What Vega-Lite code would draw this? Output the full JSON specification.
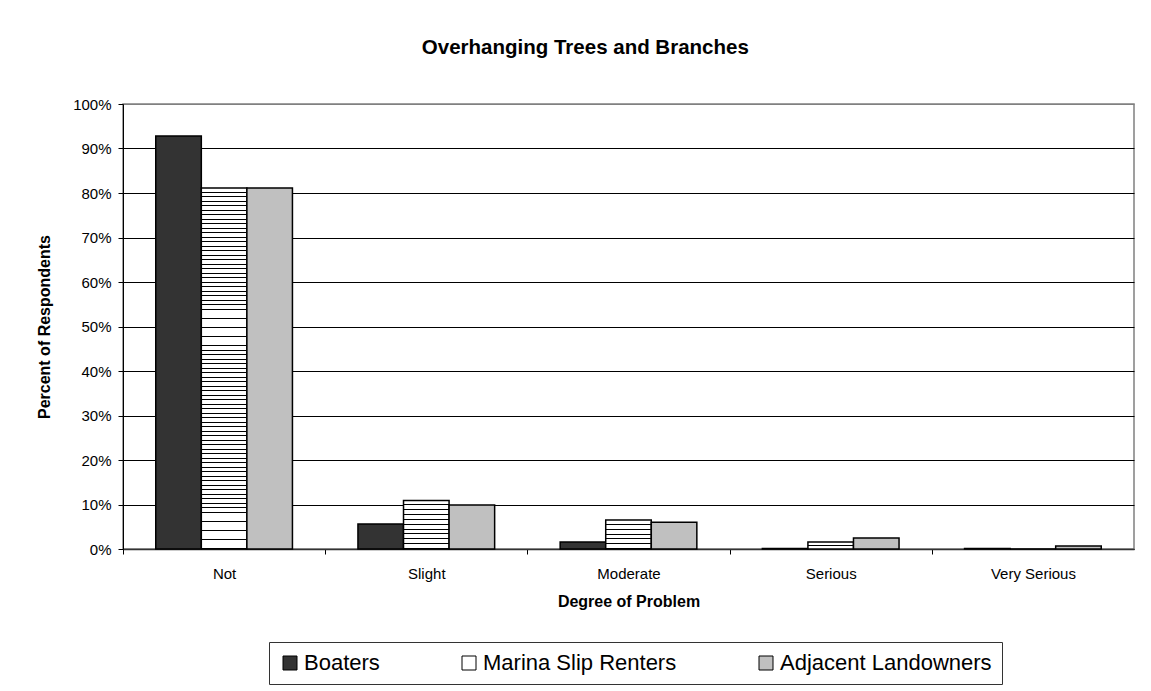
{
  "$schema": "https://vega.github.io/schema/vega-lite/v6.json",
  "width": 1011,
  "height": 445,
  "autosize": {"type": "none"},
  "padding": {"left": 123, "top": 104, "right": 17, "bottom": 142},
  "background": "white",
  "title": {"text": "Overhanging Trees and Branches", "fontSize": 20.5, "font": "Liberation Sans", "fontWeight": "bold", "color": "black", "anchor": "middle", "frame": "bounds", "offset": 39},
  "data": {"values": [
    {"Degree": "Not", "Group": "Boaters", "Pct": 0.928},
    {"Degree": "Not", "Group": "Marina Slip Renters", "Pct": 0.811},
    {"Degree": "Not", "Group": "Adjacent Landowners", "Pct": 0.811},
    {"Degree": "Slight", "Group": "Boaters", "Pct": 0.056},
    {"Degree": "Slight", "Group": "Marina Slip Renters", "Pct": 0.109},
    {"Degree": "Slight", "Group": "Adjacent Landowners", "Pct": 0.099},
    {"Degree": "Moderate", "Group": "Boaters", "Pct": 0.016},
    {"Degree": "Moderate", "Group": "Marina Slip Renters", "Pct": 0.065},
    {"Degree": "Moderate", "Group": "Adjacent Landowners", "Pct": 0.06},
    {"Degree": "Serious", "Group": "Boaters", "Pct": 0.001},
    {"Degree": "Serious", "Group": "Marina Slip Renters", "Pct": 0.016},
    {"Degree": "Serious", "Group": "Adjacent Landowners", "Pct": 0.025},
    {"Degree": "Very Serious", "Group": "Boaters", "Pct": 0.001},
    {"Degree": "Very Serious", "Group": "Marina Slip Renters", "Pct": 0},
    {"Degree": "Very Serious", "Group": "Adjacent Landowners", "Pct": 0.007}
  ]},
  "mark": {"type": "bar", "stroke": "black", "strokeWidth": 1.5},
  "encoding": {
    "x": {
      "field": "Degree", "type": "nominal",
      "sort": ["Not", "Slight", "Moderate", "Serious", "Very Serious"],
      "scale": {"paddingInner": 0.324, "paddingOuter": 0.162},
      "axis": {"title": "Degree of Problem", "titleFontSize": 16, "titleFontWeight": "bold", "titleColor": "black", "titlePadding": 12, "labelFontSize": 15, "labelColor": "black", "labelAngle": 0, "labelPadding": 12, "ticks": true, "tickSize": 5, "tickColor": "black", "tickOffset": -101.1, "labelOffset": 101.1, "domainColor": "#333", "domainWidth": 1.5}
    },
    "xOffset": {
      "field": "Group", "type": "nominal",
      "sort": ["Boaters", "Marina Slip Renters", "Adjacent Landowners"],
      "scale": {"paddingInner": 0, "paddingOuter": 0}
    },
    "y": {
      "field": "Pct", "type": "quantitative",
      "scale": {"domain": [0, 1], "nice": false},
      "axis": {"title": "Percent of Respondents", "titleFontSize": 16, "titleFontWeight": "bold", "titleColor": "black", "titlePadding": 20, "format": ".0%", "values": [0, 0.1, 0.2, 0.3, 0.4, 0.5, 0.6, 0.7, 0.8, 0.9, 1], "labelFontSize": 15, "labelColor": "black", "labelPadding": 7, "tickSize": 5, "tickColor": "black", "domainColor": "black", "grid": true, "gridColor": {"condition": {"test": "datum.value === 1", "value": "#808080"}, "value": "black"}, "gridWidth": 1, "gridOpacity": 1}
    },
    "color": {
      "condition": [
        {"test": "datum.Group === 'Marina Slip Renters' && datum.Degree === 'Not'", "value":
          {"gradient": "linear", "x1": 0, "y1": 0, "x2": 0, "y2": 1, "stops": [
            {"offset": 0, "color": "#fff"}, {"offset": 0.01, "color": "#fff"}, {"offset": 0.01, "color": "#000"}, {"offset": 0.0125, "color": "#000"},
            {"offset": 0.0125, "color": "#fff"}, {"offset": 0.0225, "color": "#fff"}, {"offset": 0.0225, "color": "#000"}, {"offset": 0.025, "color": "#000"},
            {"offset": 0.025, "color": "#fff"}, {"offset": 0.035, "color": "#fff"}, {"offset": 0.035, "color": "#000"}, {"offset": 0.0375, "color": "#000"},
            {"offset": 0.0375, "color": "#fff"}, {"offset": 0.0475, "color": "#fff"}, {"offset": 0.0475, "color": "#000"}, {"offset": 0.05, "color": "#000"},
            {"offset": 0.05, "color": "#fff"}, {"offset": 0.06, "color": "#fff"}, {"offset": 0.06, "color": "#000"}, {"offset": 0.0625, "color": "#000"},
            {"offset": 0.0625, "color": "#fff"}, {"offset": 0.0725, "color": "#fff"}, {"offset": 0.0725, "color": "#000"}, {"offset": 0.075, "color": "#000"},
            {"offset": 0.075, "color": "#fff"}, {"offset": 0.085, "color": "#fff"}, {"offset": 0.085, "color": "#000"}, {"offset": 0.0875, "color": "#000"},
            {"offset": 0.0875, "color": "#fff"}, {"offset": 0.0975, "color": "#fff"}, {"offset": 0.0975, "color": "#000"}, {"offset": 0.1, "color": "#000"},
            {"offset": 0.1, "color": "#fff"}, {"offset": 0.11, "color": "#fff"}, {"offset": 0.11, "color": "#000"}, {"offset": 0.1125, "color": "#000"},
            {"offset": 0.1125, "color": "#fff"}, {"offset": 0.1225, "color": "#fff"}, {"offset": 0.1225, "color": "#000"}, {"offset": 0.125, "color": "#000"},
            {"offset": 0.125, "color": "#fff"}, {"offset": 0.135, "color": "#fff"}, {"offset": 0.135, "color": "#000"}, {"offset": 0.1375, "color": "#000"},
            {"offset": 0.1375, "color": "#fff"}, {"offset": 0.1475, "color": "#fff"}, {"offset": 0.1475, "color": "#000"}, {"offset": 0.15, "color": "#000"},
            {"offset": 0.15, "color": "#fff"}, {"offset": 0.16, "color": "#fff"}, {"offset": 0.16, "color": "#000"}, {"offset": 0.1625, "color": "#000"},
            {"offset": 0.1625, "color": "#fff"}, {"offset": 0.1725, "color": "#fff"}, {"offset": 0.1725, "color": "#000"}, {"offset": 0.175, "color": "#000"},
            {"offset": 0.175, "color": "#fff"}, {"offset": 0.185, "color": "#fff"}, {"offset": 0.185, "color": "#000"}, {"offset": 0.1875, "color": "#000"},
            {"offset": 0.1875, "color": "#fff"}, {"offset": 0.1975, "color": "#fff"}, {"offset": 0.1975, "color": "#000"}, {"offset": 0.2, "color": "#000"},
            {"offset": 0.2, "color": "#fff"}, {"offset": 0.21, "color": "#fff"}, {"offset": 0.21, "color": "#000"}, {"offset": 0.2125, "color": "#000"},
            {"offset": 0.2125, "color": "#fff"}, {"offset": 0.2225, "color": "#fff"}, {"offset": 0.2225, "color": "#000"}, {"offset": 0.225, "color": "#000"},
            {"offset": 0.225, "color": "#fff"}, {"offset": 0.235, "color": "#fff"}, {"offset": 0.235, "color": "#000"}, {"offset": 0.2375, "color": "#000"},
            {"offset": 0.2375, "color": "#fff"}, {"offset": 0.2475, "color": "#fff"}, {"offset": 0.2475, "color": "#000"}, {"offset": 0.25, "color": "#000"},
            {"offset": 0.25, "color": "#fff"}, {"offset": 0.26, "color": "#fff"}, {"offset": 0.26, "color": "#000"}, {"offset": 0.2625, "color": "#000"},
            {"offset": 0.2625, "color": "#fff"}, {"offset": 0.2725, "color": "#fff"}, {"offset": 0.2725, "color": "#000"}, {"offset": 0.275, "color": "#000"},
            {"offset": 0.275, "color": "#fff"}, {"offset": 0.285, "color": "#fff"}, {"offset": 0.285, "color": "#000"}, {"offset": 0.2875, "color": "#000"},
            {"offset": 0.2875, "color": "#fff"}, {"offset": 0.2975, "color": "#fff"}, {"offset": 0.2975, "color": "#000"}, {"offset": 0.3, "color": "#000"},
            {"offset": 0.3, "color": "#fff"}, {"offset": 0.31, "color": "#fff"}, {"offset": 0.31, "color": "#000"}, {"offset": 0.3125, "color": "#000"},
            {"offset": 0.3125, "color": "#fff"}, {"offset": 0.3225, "color": "#fff"}, {"offset": 0.3225, "color": "#000"}, {"offset": 0.325, "color": "#000"},
            {"offset": 0.325, "color": "#fff"}, {"offset": 0.335, "color": "#fff"}, {"offset": 0.335, "color": "#000"}, {"offset": 0.3375, "color": "#000"},
            {"offset": 0.3375, "color": "#fff"}, {"offset": 0.3475, "color": "#fff"}, {"offset": 0.3475, "color": "#000"}, {"offset": 0.35, "color": "#000"},
            {"offset": 0.35, "color": "#fff"}, {"offset": 0.36, "color": "#fff"}, {"offset": 0.36, "color": "#000"}, {"offset": 0.3625, "color": "#000"},
            {"offset": 0.3625, "color": "#fff"}, {"offset": 0.3725, "color": "#fff"}, {"offset": 0.3725, "color": "#000"}, {"offset": 0.375, "color": "#000"},
            {"offset": 0.375, "color": "#fff"}, {"offset": 0.385, "color": "#fff"}, {"offset": 0.385, "color": "#000"}, {"offset": 0.3875, "color": "#000"},
            {"offset": 0.3875, "color": "#fff"}, {"offset": 0.3975, "color": "#fff"}, {"offset": 0.3975, "color": "#000"}, {"offset": 0.4, "color": "#000"},
            {"offset": 0.4, "color": "#fff"}, {"offset": 0.41, "color": "#fff"}, {"offset": 0.41, "color": "#000"}, {"offset": 0.4125, "color": "#000"},
            {"offset": 0.4125, "color": "#fff"}, {"offset": 0.4225, "color": "#fff"}, {"offset": 0.4225, "color": "#000"}, {"offset": 0.425, "color": "#000"},
            {"offset": 0.425, "color": "#fff"}, {"offset": 0.435, "color": "#fff"}, {"offset": 0.435, "color": "#000"}, {"offset": 0.4375, "color": "#000"},
            {"offset": 0.4375, "color": "#fff"}, {"offset": 0.4475, "color": "#fff"}, {"offset": 0.4475, "color": "#000"}, {"offset": 0.45, "color": "#000"},
            {"offset": 0.45, "color": "#fff"}, {"offset": 0.46, "color": "#fff"}, {"offset": 0.46, "color": "#000"}, {"offset": 0.4625, "color": "#000"},
            {"offset": 0.4625, "color": "#fff"}, {"offset": 0.4725, "color": "#fff"}, {"offset": 0.4725, "color": "#000"}, {"offset": 0.475, "color": "#000"},
            {"offset": 0.475, "color": "#fff"}, {"offset": 0.485, "color": "#fff"}, {"offset": 0.485, "color": "#000"}, {"offset": 0.4875, "color": "#000"},
            {"offset": 0.4875, "color": "#fff"}, {"offset": 0.4975, "color": "#fff"}, {"offset": 0.4975, "color": "#000"}, {"offset": 0.5, "color": "#000"},
            {"offset": 0.5, "color": "#fff"}, {"offset": 0.51, "color": "#fff"}, {"offset": 0.51, "color": "#000"}, {"offset": 0.5125, "color": "#000"},
            {"offset": 0.5125, "color": "#fff"}, {"offset": 0.5225, "color": "#fff"}, {"offset": 0.5225, "color": "#000"}, {"offset": 0.525, "color": "#000"},
            {"offset": 0.525, "color": "#fff"}, {"offset": 0.535, "color": "#fff"}, {"offset": 0.535, "color": "#000"}, {"offset": 0.5375, "color": "#000"},
            {"offset": 0.5375, "color": "#fff"}, {"offset": 0.5475, "color": "#fff"}, {"offset": 0.5475, "color": "#000"}, {"offset": 0.55, "color": "#000"},
            {"offset": 0.55, "color": "#fff"}, {"offset": 0.56, "color": "#fff"}, {"offset": 0.56, "color": "#000"}, {"offset": 0.5625, "color": "#000"},
            {"offset": 0.5625, "color": "#fff"}, {"offset": 0.5725, "color": "#fff"}, {"offset": 0.5725, "color": "#000"}, {"offset": 0.575, "color": "#000"},
            {"offset": 0.575, "color": "#fff"}, {"offset": 0.585, "color": "#fff"}, {"offset": 0.585, "color": "#000"}, {"offset": 0.5875, "color": "#000"},
            {"offset": 0.5875, "color": "#fff"}, {"offset": 0.5975, "color": "#fff"}, {"offset": 0.5975, "color": "#000"}, {"offset": 0.6, "color": "#000"},
            {"offset": 0.6, "color": "#fff"}, {"offset": 0.61, "color": "#fff"}, {"offset": 0.61, "color": "#000"}, {"offset": 0.6125, "color": "#000"},
            {"offset": 0.6125, "color": "#fff"}, {"offset": 0.6225, "color": "#fff"}, {"offset": 0.6225, "color": "#000"}, {"offset": 0.625, "color": "#000"},
            {"offset": 0.625, "color": "#fff"}, {"offset": 0.635, "color": "#fff"}, {"offset": 0.635, "color": "#000"}, {"offset": 0.6375, "color": "#000"},
            {"offset": 0.6375, "color": "#fff"}, {"offset": 0.6475, "color": "#fff"}, {"offset": 0.6475, "color": "#000"}, {"offset": 0.65, "color": "#000"},
            {"offset": 0.65, "color": "#fff"}, {"offset": 0.66, "color": "#fff"}, {"offset": 0.66, "color": "#000"}, {"offset": 0.6625, "color": "#000"},
            {"offset": 0.6625, "color": "#fff"}, {"offset": 0.6725, "color": "#fff"}, {"offset": 0.6725, "color": "#000"}, {"offset": 0.675, "color": "#000"},
            {"offset": 0.675, "color": "#fff"}, {"offset": 0.685, "color": "#fff"}, {"offset": 0.685, "color": "#000"}, {"offset": 0.6875, "color": "#000"},
            {"offset": 0.6875, "color": "#fff"}, {"offset": 0.6975, "color": "#fff"}, {"offset": 0.6975, "color": "#000"}, {"offset": 0.7, "color": "#000"},
            {"offset": 0.7, "color": "#fff"}, {"offset": 0.71, "color": "#fff"}, {"offset": 0.71, "color": "#000"}, {"offset": 0.7125, "color": "#000"},
            {"offset": 0.7125, "color": "#fff"}, {"offset": 0.7225, "color": "#fff"}, {"offset": 0.7225, "color": "#000"}, {"offset": 0.725, "color": "#000"},
            {"offset": 0.725, "color": "#fff"}, {"offset": 0.735, "color": "#fff"}, {"offset": 0.735, "color": "#000"}, {"offset": 0.7375, "color": "#000"},
            {"offset": 0.7375, "color": "#fff"}, {"offset": 0.7475, "color": "#fff"}, {"offset": 0.7475, "color": "#000"}, {"offset": 0.75, "color": "#000"},
            {"offset": 0.75, "color": "#fff"}, {"offset": 0.76, "color": "#fff"}, {"offset": 0.76, "color": "#000"}, {"offset": 0.7625, "color": "#000"},
            {"offset": 0.7625, "color": "#fff"}, {"offset": 0.7725, "color": "#fff"}, {"offset": 0.7725, "color": "#000"}, {"offset": 0.775, "color": "#000"},
            {"offset": 0.775, "color": "#fff"}, {"offset": 0.785, "color": "#fff"}, {"offset": 0.785, "color": "#000"}, {"offset": 0.7875, "color": "#000"},
            {"offset": 0.7875, "color": "#fff"}, {"offset": 0.7975, "color": "#fff"}, {"offset": 0.7975, "color": "#000"}, {"offset": 0.8, "color": "#000"},
            {"offset": 0.8, "color": "#fff"}, {"offset": 0.81, "color": "#fff"}, {"offset": 0.81, "color": "#000"}, {"offset": 0.8125, "color": "#000"},
            {"offset": 0.8125, "color": "#fff"}, {"offset": 0.8225, "color": "#fff"}, {"offset": 0.8225, "color": "#000"}, {"offset": 0.825, "color": "#000"},
            {"offset": 0.825, "color": "#fff"}, {"offset": 0.835, "color": "#fff"}, {"offset": 0.835, "color": "#000"}, {"offset": 0.8375, "color": "#000"},
            {"offset": 0.8375, "color": "#fff"}, {"offset": 0.8475, "color": "#fff"}, {"offset": 0.8475, "color": "#000"}, {"offset": 0.85, "color": "#000"},
            {"offset": 0.85, "color": "#fff"}, {"offset": 0.86, "color": "#fff"}, {"offset": 0.86, "color": "#000"}, {"offset": 0.8625, "color": "#000"},
            {"offset": 0.8625, "color": "#fff"}, {"offset": 0.8725, "color": "#fff"}, {"offset": 0.8725, "color": "#000"}, {"offset": 0.875, "color": "#000"},
            {"offset": 0.875, "color": "#fff"}, {"offset": 0.885, "color": "#fff"}, {"offset": 0.885, "color": "#000"}, {"offset": 0.8875, "color": "#000"},
            {"offset": 0.8875, "color": "#fff"}, {"offset": 0.8975, "color": "#fff"}, {"offset": 0.8975, "color": "#000"}, {"offset": 0.9, "color": "#000"},
            {"offset": 0.9, "color": "#fff"}, {"offset": 0.91, "color": "#fff"}, {"offset": 0.91, "color": "#000"}, {"offset": 0.9125, "color": "#000"},
            {"offset": 0.9125, "color": "#fff"}, {"offset": 0.9225, "color": "#fff"}, {"offset": 0.9225, "color": "#000"}, {"offset": 0.925, "color": "#000"},
            {"offset": 0.925, "color": "#fff"}, {"offset": 0.935, "color": "#fff"}, {"offset": 0.935, "color": "#000"}, {"offset": 0.9375, "color": "#000"},
            {"offset": 0.9375, "color": "#fff"}, {"offset": 0.9475, "color": "#fff"}, {"offset": 0.9475, "color": "#000"}, {"offset": 0.95, "color": "#000"},
            {"offset": 0.95, "color": "#fff"}, {"offset": 0.96, "color": "#fff"}, {"offset": 0.96, "color": "#000"}, {"offset": 0.9625, "color": "#000"},
            {"offset": 0.9625, "color": "#fff"}, {"offset": 0.9725, "color": "#fff"}, {"offset": 0.9725, "color": "#000"}, {"offset": 0.975, "color": "#000"},
            {"offset": 0.975, "color": "#fff"}, {"offset": 0.985, "color": "#fff"}, {"offset": 0.985, "color": "#000"}, {"offset": 0.9875, "color": "#000"},
            {"offset": 0.9875, "color": "#fff"}, {"offset": 0.9975, "color": "#fff"}, {"offset": 0.9975, "color": "#000"}, {"offset": 1, "color": "#000"}
          ]}
        },
        {"test": "datum.Group === 'Marina Slip Renters' && datum.Degree === 'Slight'", "value":
          {"gradient": "linear", "x1": 0, "y1": 0, "x2": 0, "y2": 1, "stops": [
            {"offset": 0, "color": "#fff"}, {"offset": 0.08, "color": "#fff"}, {"offset": 0.08, "color": "#000"}, {"offset": 0.1, "color": "#000"},
            {"offset": 0.1, "color": "#fff"}, {"offset": 0.18, "color": "#fff"}, {"offset": 0.18, "color": "#000"}, {"offset": 0.2, "color": "#000"},
            {"offset": 0.2, "color": "#fff"}, {"offset": 0.28, "color": "#fff"}, {"offset": 0.28, "color": "#000"}, {"offset": 0.3, "color": "#000"},
            {"offset": 0.3, "color": "#fff"}, {"offset": 0.38, "color": "#fff"}, {"offset": 0.38, "color": "#000"}, {"offset": 0.4, "color": "#000"},
            {"offset": 0.4, "color": "#fff"}, {"offset": 0.48, "color": "#fff"}, {"offset": 0.48, "color": "#000"}, {"offset": 0.5, "color": "#000"},
            {"offset": 0.5, "color": "#fff"}, {"offset": 0.58, "color": "#fff"}, {"offset": 0.58, "color": "#000"}, {"offset": 0.6, "color": "#000"},
            {"offset": 0.6, "color": "#fff"}, {"offset": 0.68, "color": "#fff"}, {"offset": 0.68, "color": "#000"}, {"offset": 0.7, "color": "#000"},
            {"offset": 0.7, "color": "#fff"}, {"offset": 0.78, "color": "#fff"}, {"offset": 0.78, "color": "#000"}, {"offset": 0.8, "color": "#000"},
            {"offset": 0.8, "color": "#fff"}, {"offset": 0.88, "color": "#fff"}, {"offset": 0.88, "color": "#000"}, {"offset": 0.9, "color": "#000"},
            {"offset": 0.9, "color": "#fff"}, {"offset": 0.98, "color": "#fff"}, {"offset": 0.98, "color": "#000"}, {"offset": 1, "color": "#000"}
          ]}
        },
        {"test": "datum.Group === 'Marina Slip Renters' && datum.Degree === 'Moderate'", "value":
          {"gradient": "linear", "x1": 0, "y1": 0, "x2": 0, "y2": 1, "stops": [
            {"offset": 0, "color": "#fff"}, {"offset": 0.1333, "color": "#fff"}, {"offset": 0.1333, "color": "#000"}, {"offset": 0.1667, "color": "#000"},
            {"offset": 0.1667, "color": "#fff"}, {"offset": 0.3, "color": "#fff"}, {"offset": 0.3, "color": "#000"}, {"offset": 0.3333, "color": "#000"},
            {"offset": 0.3333, "color": "#fff"}, {"offset": 0.4667, "color": "#fff"}, {"offset": 0.4667, "color": "#000"}, {"offset": 0.5, "color": "#000"},
            {"offset": 0.5, "color": "#fff"}, {"offset": 0.6333, "color": "#fff"}, {"offset": 0.6333, "color": "#000"}, {"offset": 0.6667, "color": "#000"},
            {"offset": 0.6667, "color": "#fff"}, {"offset": 0.8, "color": "#fff"}, {"offset": 0.8, "color": "#000"}, {"offset": 0.8333, "color": "#000"},
            {"offset": 0.8333, "color": "#fff"}, {"offset": 0.9667, "color": "#fff"}, {"offset": 0.9667, "color": "#000"}, {"offset": 1, "color": "#000"}
          ]}
        },
        {"test": "datum.Group === 'Marina Slip Renters' && datum.Degree === 'Serious'", "value":
          {"gradient": "linear", "x1": 0, "y1": 0, "x2": 0, "y2": 1, "stops": [
            {"offset": 0, "color": "#fff"}, {"offset": 0.4, "color": "#fff"}, {"offset": 0.4, "color": "#000"}, {"offset": 0.55, "color": "#000"},
            {"offset": 0.55, "color": "#fff"}, {"offset": 1, "color": "#fff"}
          ]}
        }
      ],
      "field": "Group", "type": "nominal",
      "scale": {
        "domain": ["Boaters", "Marina Slip Renters", "Adjacent Landowners"],
        "range": ["#333333", "#ffffff", "#c0c0c0"]
      },
      "legend": {"title": null, "orient": "none", "legendX": 146, "legendY": 538, "direction": "horizontal", "labelFontSize": 22, "labelColor": "black", "labelFont": "Liberation Sans", "labelOffset": 3, "labelLimit": 400,
        "symbolType": "square", "symbolSize": 196, "symbolStrokeColor": "black", "symbolStrokeWidth": 1, "symbolOpacity": 1, "strokeColor": "#333", "padding": 10, "columnPadding": 78,
        "encode": {"symbols": {"update": {
          "stroke": {"value": "black"},
          "strokeWidth": {"value": 1},
          "opacity": {"value": 1},
          "fill": {"scale": "color", "field": "value"}
        }}}
      }
    }
  },
  "config": {
    "font": "Liberation Sans",
    "view": {"stroke": "#808080", "strokeWidth": 1.5},
    "axis": {"labelFont": "Liberation Sans", "titleFont": "Liberation Sans"}
  }
}
